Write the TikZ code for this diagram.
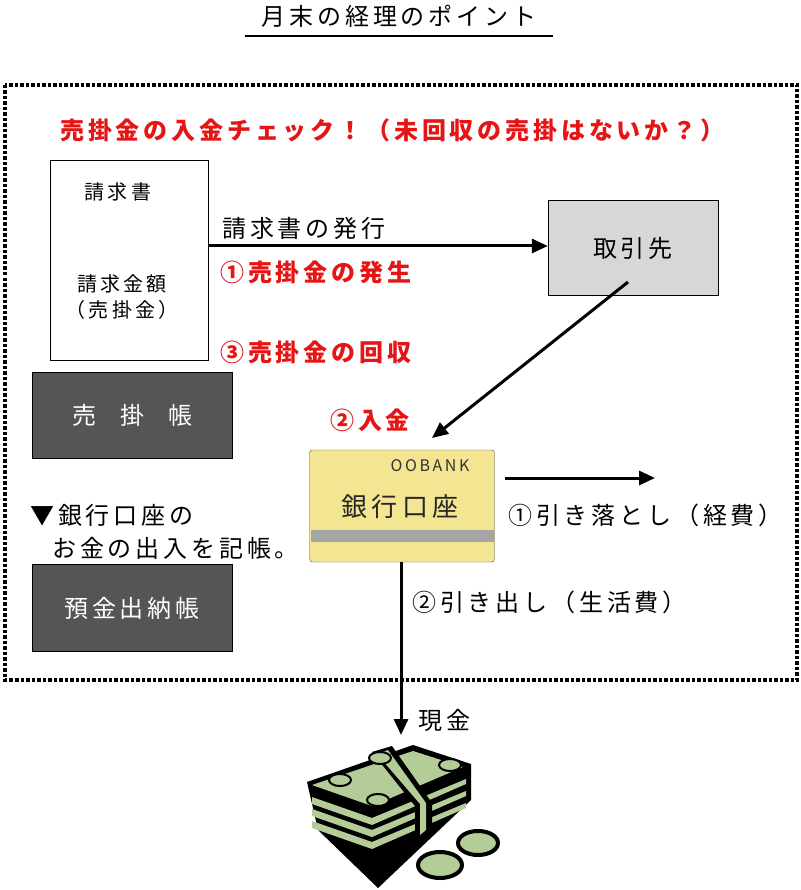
\documentclass[tikz,border=0pt]{standalone}
\usepackage{fontspec}
\setmainfont[LetterSpace=16]{Noto Sans CJK JP}
\begin{document}
\begin{tikzpicture}[x=1pt,y=-1pt,
  txt/.style={font=\fontsize{24}{26}\selectfont,inner sep=0pt},
  red/.style={txt,text={rgb,255:red,230;green,20;blue,20},font=\fontsize{24}{26}\selectfont\bfseries},
  arr/.style={line width=3pt,-{Triangle[length=16pt,width=14pt]}},
  darkbox/.style={draw=black,fill={rgb,255:red,85;green,85;blue,85},text=white,font=\fontsize{24}{26}\selectfont},
]
\usetikzlibrary{arrows.meta}
\useasboundingbox (0,0) rectangle (800,890);
\node[txt] (title) at (399,16) {月末の経理のポイント};
\draw[line width=1.2pt] (245,36) -- (553,36);
\draw[line width=3.5pt,dotted] (5,85) rectangle (797,680);
\node[red,anchor=west] (chk) at (60,130) {売掛金の入金チェック！（未回収の売掛はないか？）};
\draw[fill=white] (50,160) rectangle (208,360);
\node[txt,font=\fontsize{20}{22}\selectfont] (sk) at (118,192) {請求書};
\node[txt,font=\fontsize{20}{22}\selectfont,align=center] (skg) at (122,297) {請求金額\\[4pt]（売掛金）};
\node[draw=black,fill={rgb,255:red,215;green,215;blue,215},minimum width=170pt,minimum height=95pt,font=\fontsize{24}{26}\selectfont] (tr) at (633,248) {取引先};
\coordinate (a1) at (208,246);
\draw[arr] (a1) -- (tr.west|-a1);
\node[txt,anchor=west] (hak) at (222,228) {請求書の発行};
\node[red,anchor=west] (l1) at (220,272) {①売掛金の発生};
\node[red,anchor=west] (l3) at (220,352) {③売掛金の回収};
\node[darkbox,minimum width=200pt,minimum height=86pt] (uk) at (132,415) {売\hspace{1em}掛\hspace{1em}帳};
\node[draw=black!70,rounded corners=3pt,fill={rgb,255:red,243;green,229;blue,145},minimum width=185pt,minimum height=112pt] (card) at (402,506) {};
\fill[gray!70] (311,530) rectangle (494,542);
\node[txt,font=\fontsize{16}{18}\selectfont,text=black!80] (bank) at (430,466) {OOBANK};
\node[txt,font=\fontsize{26}{28}\selectfont,text=black!85] (gk) at (400,507) {銀行口座};
\coordinate (tf) at (628,282);
\draw[arr] (tf) -- (432,438);
\node[red,anchor=west] (l2) at (330,420) {②入金};
\coordinate (c1) at (505,478);
\coordinate (c2) at (655,478);
\draw[arr] (c1) -- (c2);
\node[txt,anchor=west] (hk) at (508,515) {①引き落とし（経費）};
\node[txt,anchor=west] (k1) at (30,515) {▼銀行口座の};
\node[txt,anchor=west] (k2) at (52,548) {お金の出入を記帳。};
\node[darkbox,minimum width=200pt,minimum height=87pt] (yk) at (132,608) {預金出納帳};
\coordinate (cash) at (401,735);
\draw[arr] (card.south-|cash) -- (cash);
\node[txt,anchor=west] (hd) at (412,602) {②引き出し（生活費）};
\node[txt,anchor=west] (gen) at (418,720) {現金};
% money
\fill[black] (307,782) -- (413,745) -- (471,764) -- (471,800) -- (378,888) -- (318,830) -- cycle;
\fill[green!30!lime!35!gray!60] (312,785) -- (413,751) -- (463,767) -- (372,806) -- cycle;
\foreach \d in {12,24,36}{
  \fill[green!30!lime!35!gray!60] (312,785+\d) -- (372,806+\d) -- (466,767+\d) -- (466,772+\d) -- (372,813+\d) -- (312,792+\d) -- cycle;}
\fill[black] (372,752) -- (392,746) -- (432,803) -- (432,835) -- (415,850) -- (415,806) -- cycle;
\fill[green!30!lime!35!gray!60] (377,754) -- (388,750) -- (426,803) -- (426,830) -- (420,835) -- (420,804) -- cycle;
\foreach \p in {(340,780),(380,758),(450,765),(378,800)}{
  \draw[black,line width=2pt,fill=green!30!lime!35!gray!60] \p ellipse (11pt and 6pt);}
\draw[black,line width=4pt,fill=green!30!lime!35!gray!60] (440,865) ellipse (22pt and 13pt);
\draw[black,line width=4pt,fill=green!30!lime!35!gray!60] (478,843) ellipse (20pt and 12pt);
\end{tikzpicture}
\end{document}
